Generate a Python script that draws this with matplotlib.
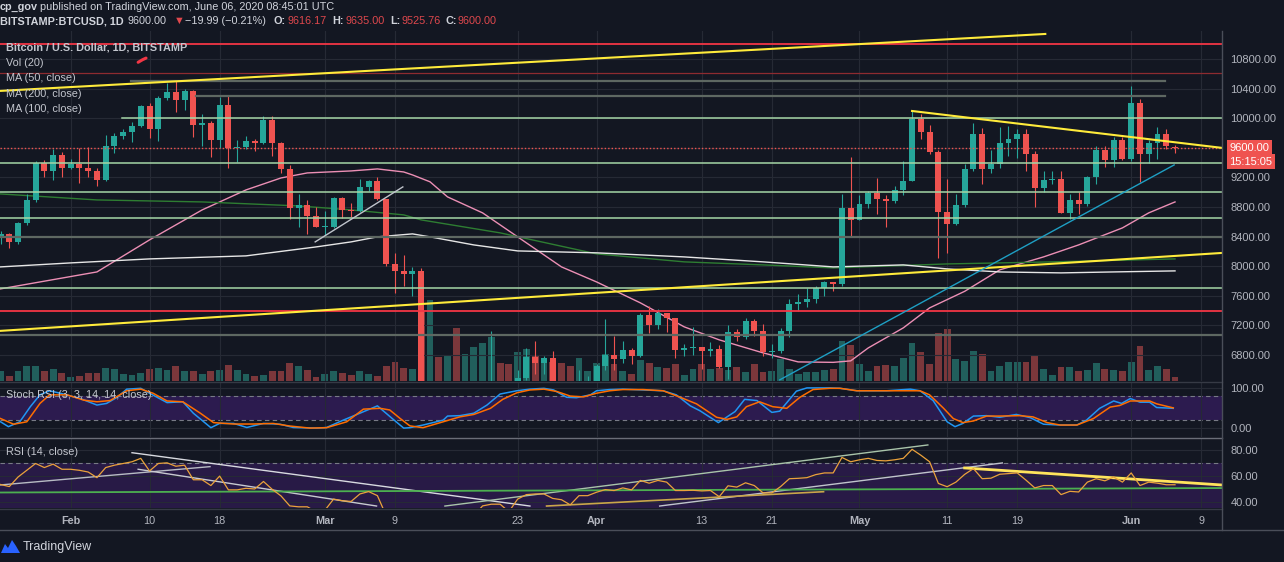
import numpy as np
import matplotlib.pyplot as plt
import matplotlib.transforms as mtransforms
from matplotlib.lines import Line2D
from matplotlib.patches import Polygon

plt.rcParams['font.family'] = ['Liberation Sans', 'DejaVu Sans']

W, H = 1284, 562
BG = '#131722'
GRID = '#262a35'
TXT = '#b2b5be'
UP, DOWN = '#26a69a', '#ef5350'
VOL_UP, VOL_DOWN = '#215f5c', '#7b373b'

# daily bars, index 0 = 2020-01-24 ... index 134 = 2020-06-06
opens = [8390, 8440, 8330, 8590, 8900, 9395, 9290, 9500, 9330, 9380,
         9330, 9280, 9160, 9620, 9760, 9810, 9900, 10170, 9850, 10270,
         10350, 10240, 10370, 9910, 9930, 9700, 10180, 9600, 9610, 9690,
         9670, 9970, 9660, 9310, 8790, 8820, 8680, 8530, 8535, 8920,
         8760, 8750, 9070, 9150, 8910, 8030, 7930, 7890, 7940, 4860,
         5620, 5170, 5360, 5030, 5330, 5400, 6190, 6200, 6190, 5830,
         6490, 6770, 6690, 6760, 6380, 6250, 5880, 6410, 6430, 6650,
         6800, 6740, 6870, 6780, 7340, 7200, 7370, 7300, 6870, 6890,
         6910, 6860, 6880, 6640, 7110, 7040, 7260, 7130, 6840, 6860,
         7130, 7490, 7520, 7550, 7700, 7790, 7760, 8790, 8630, 8840,
         8990, 8910, 8880, 9030, 9150, 9990, 9810, 9540, 8730, 8570,
         8820, 9310, 9790, 9310, 9380, 9670, 9720, 9780, 9510, 9060,
         9170, 9180, 8720, 8900, 8840, 9200, 9570, 9430, 9700, 9450,
         10200, 9520, 9670, 9790, 9616]
highs = [8470, 8450, 8600, 8980, 9420, 9440, 9590, 9540, 9450, 9600,
         9610, 9330, 9770, 9800, 9860, 9950, 10180, 10200, 10300, 10480,
         10500, 10390, 10380, 10050, 9960, 10290, 10300, 9700, 9760, 9720,
         10030, 10030, 9680, 9370, 8980, 8900, 8800, 8750, 8940, 8940,
         8850, 9180, 9170, 9200, 8910, 8180, 8150, 7990, 7970, 5950,
         5650, 5940, 5370, 5550, 5430, 6380, 7130, 6450, 6400, 6600,
         6890, 6990, 6790, 6860, 6380, 6260, 6600, 6520, 6680, 7290,
         7050, 6990, 6890, 7370, 7460, 7420, 7370, 7300, 6950, 7180,
         6910, 6980, 6930, 7200, 7150, 7300, 7290, 7220, 6950, 7160,
         7560, 7620, 7700, 7730, 7800, 7790, 8980, 9470, 8960, 9020,
         9190, 8960, 9090, 9420, 10100, 10050, 9910, 9570, 9180, 8980,
         9380, 9930, 9870, 9570, 9880, 9900, 9860, 9860, 9560, 9290,
         9290, 9290, 8970, 9000, 9220, 9620, 9620, 9740, 9750, 10430,
         10260, 9700, 9880, 9860, 9635]
lows = [8300, 8250, 8300, 8560, 8870, 9210, 9170, 9200, 9310, 9130,
        9200, 9080, 9150, 9530, 9720, 9680, 9880, 9730, 9690, 10240,
        10090, 10110, 9750, 9620, 9470, 9600, 9330, 9410, 9580, 9560,
        9650, 9490, 9260, 8640, 8530, 8430, 8530, 8410, 8520, 8650,
        8660, 8730, 9010, 8890, 8000, 7640, 7730, 7590, 4780, 3850,
        5060, 5100, 4440, 4930, 5060, 5260, 5670, 5860, 5760, 5690,
        6460, 6540, 6540, 6260, 6030, 5870, 5860, 6330, 6150, 6590,
        6600, 6690, 6680, 6770, 7090, 7150, 7110, 6760, 6780, 6800,
        6610, 6790, 6620, 6480, 6990, 7020, 7050, 6780, 6760, 6830,
        7040, 7390, 7450, 7500, 7600, 7660, 7730, 8410, 8630, 8780,
        8710, 8530, 8850, 8960, 9150, 9720, 9520, 8110, 8180, 8550,
        8800, 9290, 9110, 9260, 9330, 9490, 9460, 9280, 8800, 9000,
        9110, 8720, 8640, 8700, 8810, 9110, 9340, 9340, 9440, 9420,
        9140, 9400, 9450, 9580, 9526]
closes = [8440, 8330, 8590, 8900, 9395, 9290, 9500, 9330, 9380, 9330,
          9280, 9160, 9620, 9760, 9810, 9900, 10170, 9850, 10270, 10350,
          10240, 10370, 9910, 9930, 9700, 10180, 9600, 9610, 9690, 9670,
          9970, 9660, 9310, 8790, 8820, 8680, 8530, 8535, 8920, 8760,
          8750, 9070, 9150, 8910, 8030, 7930, 7890, 7940, 4860, 5620,
          5170, 5360, 5030, 5330, 5400, 6190, 6200, 6190, 5830, 6490,
          6770, 6690, 6760, 6380, 6250, 5880, 6410, 6430, 6650, 6800,
          6740, 6870, 6780, 7340, 7200, 7370, 7300, 6870, 6890, 6910,
          6860, 6880, 6640, 7110, 7040, 7260, 7130, 6840, 6860, 7130,
          7490, 7520, 7550, 7700, 7790, 7760, 8790, 8630, 8840, 8990,
          8910, 8880, 9030, 9150, 9990, 9810, 9540, 8730, 8570, 8820,
          9310, 9790, 9310, 9380, 9670, 9720, 9780, 9510, 9060, 9170,
          9180, 8720, 8900, 8840, 9200, 9570, 9430, 9700, 9450, 10200,
          9520, 9670, 9790, 9620, 9600]
# volume, thousand BTC
volume = [10, 5, 10, 15, 15, 10, 12, 8, 4, 5,
          8, 8, 13, 12, 7, 6, 8, 12, 13, 11,
          15, 10, 10, 7, 10, 11, 16, 11, 7, 5,
          6, 10, 10, 18, 15, 11, 4, 7, 10, 8,
          6, 10, 7, 5, 15, 19, 13, 12, 70, 81,
          24, 25, 53, 27, 34, 38, 44, 18, 17, 29,
          32, 25, 20, 19, 18, 15, 23, 10, 18, 27,
          17, 10, 7, 21, 18, 14, 13, 17, 6, 12,
          17, 12, 13, 11, 14, 9, 17, 9, 10, 22,
          12, 7, 9, 9, 11, 12, 40, 36, 17, 10,
          15, 16, 15, 23, 38, 29, 17, 48, 52, 22,
          20, 30, 27, 10, 15, 19, 19, 19, 26, 12,
          6, 14, 14, 10, 11, 18, 12, 11, 10, 19,
          35, 11, 15, 12, 4]

# moving averages (day index, value)
ma50_day = [0, 11, 17, 23, 28, 32, 35, 40, 43, 46, 47, 49, 51, 55, 59, 64, 68, 73, 78,
            82, 87, 91, 95, 97, 99, 103, 106, 110, 114, 119, 123, 128, 131, 134]
ma50 = [7693, 7922, 8355, 8760, 9030, 9192, 9260, 9287, 9314, 9273, 9233, 9140, 8936, 8720,
        8396, 7990, 7787, 7504, 7180, 7004, 6828, 6706, 6700, 6720, 6895, 7166, 7436, 7660,
        7950, 8125, 8287, 8517, 8720, 8868]
ma200_day = [0, 11, 23, 34, 40, 46, 48, 57, 68, 78, 87, 95, 108, 120, 134]
ma200 = [8976, 8895, 8868, 8814, 8760, 8693, 8625, 8450, 8166, 8058, 8017, 7976, 8030, 8058, 8098]
ma100_day = [0, 8, 17, 28, 36, 40, 43, 47, 49, 54, 59, 68, 78, 87, 95, 103, 108, 114, 121, 127, 134]
ma100 = [7990, 8044, 8098, 8139, 8260, 8328, 8396, 8436, 8396, 8287, 8206, 8180, 8125, 8058,
         7990, 8017, 7963, 7922, 7909, 7922, 7936]

# stoch RSI %K / %D (day index, value)
k_day = [0, 0.9, 2.2, 3.4, 4.5, 5.6, 6.8, 9.1, 11, 12.1, 13.3, 14.4, 16, 17, 19, 20.8, 22, 24, 25,
         26.6, 28.1, 30, 31.9, 33.4, 36.1, 37.2, 39.1, 41, 43, 44.8, 46, 46.7, 48.2, 50.5, 51,
         52.4, 54, 55.5, 57, 58.9, 60.4, 62, 63.1, 64.6, 65.7, 67.3, 68, 69.5, 71, 73.3, 75.6,
         77.1, 78.7, 79.8, 81.9, 83.8, 84.9, 86.3, 88, 88.9, 90.8, 92, 94.6, 95.8, 97.7, 101.1,
         103.8, 104.9, 106.4, 108, 108.9, 109.8, 111, 112.5, 114, 115.9, 117.5, 119, 120.9, 122.8,
         123.9, 125.4, 127, 127.9, 128.9, 130, 131.1, 131.9, 133.8]
k_val = [16, 4, 16, 53, 82, 92, 86, 73, 57, 61, 76, 96, 98, 86, 63, 65, 37, 1.5, 12,
         12, 2, 12, 10, 2, 0.5, 2, 20, 37, 55, 22, 0.5, 1.5, 8, 20, 30,
         31, 37, 57, 84, 92, 96, 98, 94, 76, 75, 82, 92, 95, 96, 94, 92,
         82, 55, 43, 14, 41, 71, 68, 39, 42, 91, 99, 99, 98, 92, 92,
         96, 92, 68, 16, 4, 12, 30, 31, 27, 34, 26, 10, 8, 8,
         20, 49, 67, 61, 73, 64, 64, 51, 49]
d_day = [0, 1.5, 3, 4.5, 5.6, 7.6, 9.5, 11, 12.5, 14.4, 16, 17.4, 19, 20.8, 22.8, 24.3, 26.6,
         28.9, 31.1, 33, 35.3, 37.2, 39.5, 41.4, 43.3, 44.4, 45.6, 46.7, 48.2, 50.5, 52.4, 54,
         55.9, 57.3, 58.9, 60.4, 62, 63.5, 65, 66.5, 68, 69.5, 71, 73.3, 75.6, 77.9, 79.4, 81.7,
         82.9, 84, 85.1, 86.6, 88.1, 89.7, 91.2, 92.7, 94.6, 95.8, 97.7, 101.1, 104.9, 106,
         107.6, 108.7, 109.8, 111, 112.5, 114, 116.3, 117.8, 119.4, 120.9, 122.8, 124.7, 126.6,
         127.7, 128.9, 130, 131.1, 131.9, 133.8]
d_val = [24, 10, 16, 61, 82, 82, 69, 65, 68, 92, 96, 86, 67, 65, 37, 14, 10.5,
         10.5, 12, 5.6, 0.5, 1.5, 16, 47, 49, 45, 24, 6, 1.5, 16, 28, 34,
         49, 71, 87, 94, 96, 90, 79, 77, 86, 92, 95, 95, 92, 73, 60, 27,
         22, 28, 53, 65, 53, 49, 76, 95, 98, 98, 92, 92, 92, 82,
         49, 24, 14, 18, 30, 30, 31, 28, 14, 8, 8, 24, 52,
         56, 67, 67, 67, 60, 50]

# RSI(14), one value per day
rsi = [53.7, 52.1, 59.4, 64.5, 69.7, 66.6, 69.2, 65.3, 65.3, 64.5,
       63.2, 58.9, 66.6, 68.4, 69.7, 71.0, 73.6, 64.0, 69.7, 70.2,
       67.6, 68.4, 57.3, 57.3, 52.9, 60.1, 49.6, 49.6, 50.8, 50.3,
       56.0, 50.0, 45.0, 37.4, 36.7, 36.7, 33.0, 34.0, 42.6, 41.3,
       40.8, 46.5, 48.3, 45.2, 30.0, 28.0, 27.5, 28.5, 14.0, 25.0,
       23.0, 25.0, 22.0, 26.0, 30.0, 37.4, 38.7, 38.7, 33.0, 42.6,
       46.0, 46.5, 46.5, 43.1, 42.1, 38.2, 45.2, 45.2, 47.8, 49.8,
       49.1, 51.1, 49.6, 56.8, 54.7, 56.8, 55.5, 49.1, 49.1, 49.3,
       48.8, 49.1, 44.4, 52.7, 51.7, 55.0, 52.9, 47.3, 47.3, 52.1,
       58.1, 58.4, 58.9, 61.2, 62.5, 62.5, 74.3, 71.0, 72.5, 73.6,
       72.0, 71.7, 72.5, 73.6, 80.5, 76.0, 71.0, 54.5, 52.0, 55.5,
       61.4, 65.8, 58.1, 58.5, 61.5, 62.0, 62.5, 57.0, 51.1, 52.9,
       52.9, 46.0, 48.5, 48.0, 55.5, 58.1, 56.5, 59.4, 55.5, 62.5,
       52.9, 55.5, 54.7, 53.5, 53.5]

tick_days = [8, 17, 25, 37, 45, 59, 68, 80, 88, 98, 108, 116, 129, 137]
tick_labels = ['Feb', '10', '18', 'Mar', '9', '23', 'Apr', '13', '21', 'May', '11', '19', 'Jun', '9']
months = ['Feb', 'Mar', 'Apr', 'May', 'Jun']
price_ticks = list(range(6800, 10801, 400))

# horizontal drawings: price, colour, width, start day, end day
hlines = [(11003, '#f23645', 1.3, None, None),
          (10611, '#8e2b30', 0.9, None, None),
          (10503, '#5e6862', 1.6, 14.9, 132.9),
          (10300, '#5e6862', 1.6, 22.3, 132.9),
          (10000, '#a5d6a7', 1.1, 13.9, None),
          (9400, '#a5d6a7', 1.1, None, None),
          (9000, '#a5d6a7', 1.1, None, None),
          (8650, '#a5d6a7', 1.1, None, None),
          (8400, '#5e6862', 1.6, None, None),
          (7700, '#a5d6a7', 1.1, None, None),
          (7400, '#f23645', 1.3, None, None),
          (7070, '#5e6862', 1.6, None, None)]
# trend lines: (day0, price0, day1, price1, colour, width)
trends = [(-0.1, 10368, 119.2, 11138, '#ffeb3b', 1.5),
          (-0.1, 7125, 139.4, 8179, '#ffeb3b', 1.5),
          (104.0, 10097, 139.4, 9598, '#ffeb3b', 1.5),
          (88.9, 6463, 133.9, 9368, '#1e9fc4', 1.0),
          (35.9, 8328, 45.9, 9071, '#c0c4cc', 1.0)]
rsi_trends = [(-0.1, 53.3, 23.9, 67.3, '#b8bcc4', 1.0),
              (15.0, 77.9, 60.4, 37.3, '#d8dae0', 1.0),
              (15.7, 65.3, 42.9, 37.3, '#c8cad0', 1.0),
              (50.7, 37.3, 105.8, 83.8, '#a9c4aa', 1.0),
              (75.2, 37.3, 114.3, 70.1, '#c0c4cc', 1.0),
              (62.3, 37.3, 93.9, 48.2, '#c9a64a', 1.2),
              (110.0, 66.3, 139.4, 53.3, '#ffe45c', 2.0),
              (-0.1, 47.6, 139.4, 51.0, '#4caf50', 1.3)]


def rect(x0, y0, x1, y1):
    return [x0 / W, 1 - y1 / H, (x1 - x0) / W, (y1 - y0) / H]


def fxy(x, y):
    return x / W, 1 - y / H


fig = plt.figure(figsize=(W / 100, H / 100), dpi=100, facecolor=BG)
XLIM = (-0.06, 139.36)
days = np.arange(len(closes))
o, h, l, c = (np.array(a, dtype=float) for a in (opens, highs, lows, closes))
up = c >= o

# volume underneath the price pane
axv = fig.add_axes(rect(0, 31, 1222, 381), facecolor=BG)
axv.bar(days, volume, width=0.78, color=np.where(up, VOL_UP, VOL_DOWN), zorder=1)
axv.set_xlim(*XLIM)
axv.set_ylim(0, 350)
axv.axis('off')

ax = fig.add_axes(rect(0, 31, 1222, 381), facecolor='none')
ax.set_xlim(*XLIM)
ax.set_ylim(6448, 11178)
ax.set_yticks(price_ticks)
ax.set_yticklabels([f'{p:.2f}' for p in price_ticks])
ax.set_xticks(tick_days)
ax.set_xticklabels([])
ax.yaxis.tick_right()
ax.tick_params(axis='y', length=0, pad=6, labelsize=8, labelcolor=TXT)
ax.tick_params(axis='x', length=0)
ax.grid(True, color=GRID, lw=0.8, zorder=0)
for s in ax.spines.values():
    s.set_visible(False)

ax.plot(ma50_day, ma50, color='#ec8fb5', lw=1.0, zorder=3)
ax.plot(ma200_day, ma200, color='#2e7d32', lw=1.0, zorder=3)
ax.plot(ma100_day, ma100, color='#e6e6e6', lw=1.0, zorder=3)

ax.vlines(days, l, h, color=np.where(up, UP, DOWN), lw=0.8, zorder=4)
body_lo = np.minimum(o, c)
body_h = np.maximum(np.abs(c - o), 14)
ax.bar(days, body_h, bottom=body_lo, width=0.68, color=np.where(up, UP, DOWN), zorder=5)

for price, col, lw, d0, d1 in hlines:
    x0 = XLIM[0] if d0 is None else d0
    x1 = XLIM[1] if d1 is None else d1
    ax.plot([x0, x1], [price, price], color=col, lw=lw, zorder=6)
ax.axhline(9600, color='#ef5350', lw=1.0, ls=(0, (1, 1.5)), zorder=6)
for d0, p0, d1, p1, col, lw in trends:
    ax.plot([d0, d1], [p0, p1], color=col, lw=lw, zorder=7)
ax.plot([15.7, 16.2, 16.6], [10755, 10790, 10812], color='#f23645', lw=2.2,
        solid_capstyle='round', zorder=7)

trans = mtransforms.blended_transform_factory(ax.transAxes, ax.transData)
for val, txt in [(9600, '9600.00'), (9412, '15:15:05')]:
    ax.text(1.006, val, txt, transform=trans, ha='left', va='center', fontsize=8,
            color='white', clip_on=False, zorder=10,
            bbox=dict(boxstyle='square,pad=0.25', fc='#ef5350', ec='none'))

legend_lines = [('Bitcoin / U.S. Dollar, 1D, BITSTAMP', 'bold', 48),
                ('Vol (20)', 'normal', 63), ('MA (50, close)', 'normal', 78),
                ('MA (200, close)', 'normal', 94), ('MA (100, close)', 'normal', 109)]
for txt, wt, y in legend_lines:
    fig.text(*fxy(6, y), txt, fontsize=7.8, fontweight=wt, color='#c3c6ce', va='center', zorder=20)

# stoch RSI pane
axs = fig.add_axes(rect(0, 382, 1222, 437), facecolor=BG)
axs.set_xlim(*XLIM)
axs.set_ylim(-21.3, 113.5)
axs.axhspan(20, 80, color='#2c1b4f', lw=0, zorder=0)
for lvl in (20, 80):
    axs.axhline(lvl, color='#787b86', lw=0.8, ls=(0, (4, 3)), zorder=1)
axs.set_yticks([0, 100])
axs.set_yticklabels(['0.00', '100.00'])
axs.set_xticks(tick_days)
axs.set_xticklabels([])
axs.yaxis.tick_right()
axs.tick_params(axis='y', length=0, pad=6, labelsize=8, labelcolor=TXT)
axs.tick_params(axis='x', length=0)
axs.grid(True, color=GRID, lw=0.8, zorder=0)
for s in axs.spines.values():
    s.set_visible(False)
axs.plot(k_day, k_val, color='#2196f3', lw=1.1, zorder=3)
axs.plot(d_day, d_val, color='#ff6d00', lw=1.1, zorder=3)
axs.text(0.005, 0.76, 'Stoch RSI (3, 3, 14, 14, close)', transform=axs.transAxes,
         fontsize=7.8, color='#c3c6ce', va='center', zorder=5)

# RSI pane
axr = fig.add_axes(rect(0, 438, 1222, 508), facecolor=BG)
axr.set_xlim(*XLIM)
axr.set_ylim(35.8, 89.1)
axr.axhspan(30, 70, color='#281a46', lw=0, zorder=0)
axr.axhline(70, color='#787b86', lw=0.8, ls=(0, (4, 3)), zorder=1)
axr.set_yticks([40, 60, 80])
axr.set_yticklabels(['40.00', '60.00', '80.00'])
axr.set_xticks(tick_days)
axr.set_xticklabels(tick_labels)
for lab in axr.get_xticklabels():
    if lab.get_text() in months:
        lab.set_fontweight('bold')
axr.yaxis.tick_right()
axr.tick_params(axis='y', length=0, pad=6, labelsize=8, labelcolor=TXT)
axr.tick_params(axis='x', length=0, pad=6, labelsize=7.8, labelcolor=TXT)
axr.grid(True, color=GRID, lw=0.8, zorder=0)
for s in axr.spines.values():
    s.set_visible(False)
for d0, v0, d1, v1, col, lw in rsi_trends:
    axr.plot([d0, d1], [v0, v1], color=col, lw=lw, zorder=2)
axr.plot(days, rsi, color='#eba23b', lw=0.9, zorder=3)
axr.text(0.005, 0.80, 'RSI (14, close)', transform=axr.transAxes,
         fontsize=7.8, color='#c3c6ce', va='center', zorder=5)

# pane separators and price scale border
for x0, y0, x1, y1, col in [(0, 381.5, 1222, 381.5, '#363a45'),
                            (0, 437.5, 1222, 437.5, '#6a6d78'),
                            (0, 508.5, 1222, 508.5, '#363a45'),
                            (0, 530, W, 530, '#4a4e59'),
                            (1222, 31, 1222, 530, '#4a4e59')]:
    fig.add_artist(Line2D([x0 / W, x1 / W], [1 - y0 / H, 1 - y1 / H], color=col, lw=1.0))

# header
HDR = '#d1d4dc'
RED = '#e0484d'
fig.text(*fxy(0, 7), 'cp_gov', fontsize=7.8, fontweight='bold', color=HDR, va='center')
fig.text(*fxy(40, 7), 'published on TradingView.com, June 06, 2020 08:45:01 UTC',
         fontsize=7.8, color=HDR, va='center')
row2 = [(0, 'BITSTAMP:BTCUSD, 1D', 'bold', HDR), (128, '9600.00', 'normal', HDR),
        (174, '\u25bc', 'normal', RED), (185, '\u221219.99 (\u22120.21%)', 'normal', HDR),
        (274, 'O:', 'bold', HDR), (288, '9616.17', 'normal', RED),
        (332, 'H:', 'bold', HDR), (346, '9635.00', 'normal', RED),
        (390, 'L:', 'bold', HDR), (401, '9525.76', 'normal', RED),
        (446, 'C:', 'bold', HDR), (458, '9600.00', 'normal', RED)]
for x, txt, wt, col in row2:
    fig.text(*fxy(x, 21), txt, fontsize=7.8, fontweight=wt, color=col, va='center')

# TradingView logo
logo = [(1, 553), (5, 544), (8, 548), (12, 540), (16, 546), (20, 553)]
fig.add_artist(Polygon([fxy(x, y) for x, y in logo], closed=True, fc='#2962ff', ec='none',
                       transform=fig.transFigure))
fig.text(*fxy(23, 547), 'TradingView', fontsize=9, color=HDR, va='center')

fig.savefig('out.png', dpi=100, facecolor=BG)
